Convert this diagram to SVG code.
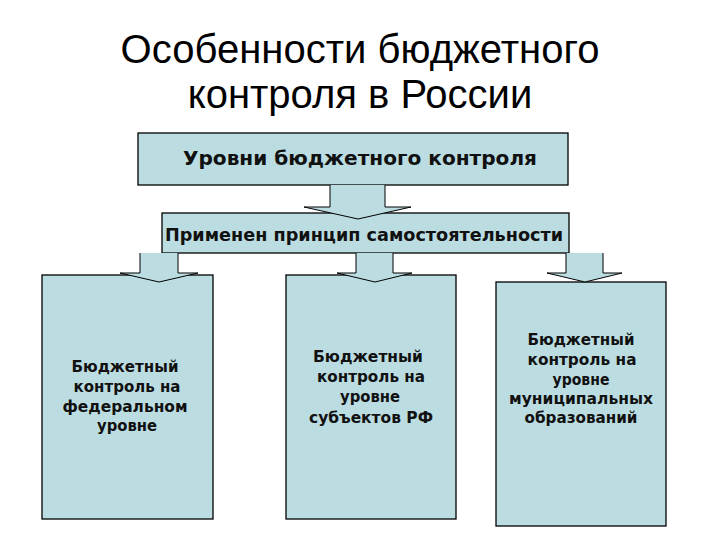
<svg xmlns="http://www.w3.org/2000/svg" width="720" height="540" viewBox="0 0 720 540">
<style>
.box{fill:#bbdde2;stroke:#000;stroke-width:1.3}
.arr{fill:#bbdde2;stroke:#000;stroke-width:1}
.title{font-family:"Liberation Sans",Arial,sans-serif;font-size:40px;fill:#000;text-anchor:middle}
.hd{font-family:"DejaVu Sans","Liberation Sans",sans-serif;font-weight:bold;fill:#111;text-anchor:middle}
.bt{font-family:"DejaVu Sans","Liberation Sans",sans-serif;font-weight:bold;font-size:15px;fill:#111;text-anchor:middle}
</style>
<rect width="720" height="540" fill="#fff"/>
<g id="title">
<text class="title" x="360" y="63" textLength="479" lengthAdjust="spacingAndGlyphs">Особенности бюджетного</text>
<text class="title" x="360" y="108">контроля в России</text>
</g>
<g id="levels">
<rect class="box" x="138" y="133" width="430" height="52"/>
<text class="hd" x="360" y="165" font-size="19" textLength="354" lengthAdjust="spacingAndGlyphs">Уровни бюджетного контроля</text>
</g>
<g id="principle">
<rect class="box" x="162" y="213" width="407" height="40"/>
<text class="hd" x="364" y="241" font-size="17" textLength="398" lengthAdjust="spacingAndGlyphs">Применен принцип самостоятельности</text>
</g>
<g id="federal">
<rect class="box" x="42" y="275" width="171" height="244"/>
<text class="bt" x="125" y="372" textLength="107" lengthAdjust="spacingAndGlyphs">Бюджетный</text>
<text class="bt" x="127" y="392" textLength="107" lengthAdjust="spacingAndGlyphs">контроль на</text>
<text class="bt" x="125" y="412" textLength="125" lengthAdjust="spacingAndGlyphs">федеральном</text>
<text class="bt" x="127" y="431" textLength="60" lengthAdjust="spacingAndGlyphs">уровне</text>
</g>
<g id="regional">
<rect class="box" x="286" y="275" width="170" height="244"/>
<text class="bt" x="368" y="362" textLength="110" lengthAdjust="spacingAndGlyphs">Бюджетный</text>
<text class="bt" x="371" y="382" textLength="108" lengthAdjust="spacingAndGlyphs">контроль на</text>
<text class="bt" x="370" y="402" textLength="60" lengthAdjust="spacingAndGlyphs">уровне</text>
<text class="bt" x="371" y="423" textLength="124" lengthAdjust="spacingAndGlyphs">субъектов РФ</text>
</g>
<g id="municipal">
<rect class="box" x="496" y="282" width="170" height="244"/>
<text class="bt" x="581" y="345" textLength="107" lengthAdjust="spacingAndGlyphs">Бюджетный</text>
<text class="bt" x="582" y="365" textLength="109" lengthAdjust="spacingAndGlyphs">контроль на</text>
<text class="bt" x="581" y="385" textLength="57" lengthAdjust="spacingAndGlyphs">уровне</text>
<text class="bt" x="581" y="404" textLength="144" lengthAdjust="spacingAndGlyphs">муниципальных</text>
<text class="bt" x="581" y="423" textLength="113" lengthAdjust="spacingAndGlyphs">образований</text>
</g>
<g id="connectors">
<path class="arr" d="M330,185 V207 H304 L358,219 L411,207 H385 V185"/>
<path class="arr" d="M140,253 V273 H120 L159,282 L198,273 H178 V253"/>
<path class="arr" d="M356,253 V273 H337 L375,282 L412,273 H393 V253"/>
<path class="arr" d="M566,253 V273 H547 L585,282 L622,273 H603 V253"/>
</g>
</svg>
